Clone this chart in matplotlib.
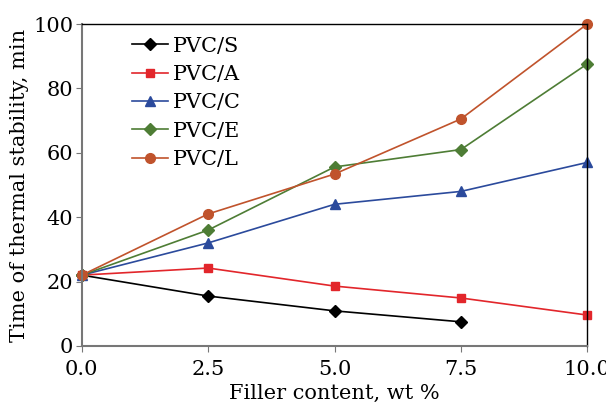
import matplotlib.pyplot as plt

plt.rcParams['font.family'] = ['DejaVu Serif']

filler = [0.0, 2.5, 5.0, 7.5, 10.0]
pvc_s = [22, 15.5, 10.9, 7.5]
pvc_a = [22, 24.2, 18.6, 14.9, 9.6]
pvc_c = [22, 32, 44, 48, 57]
pvc_e = [22, 36, 55.6, 61, 87.6]
pvc_l = [22, 41, 53.4, 70.5, 100]

fig = plt.figure(figsize=(6.06, 4.07), dpi=100)
ax = fig.add_axes([0.135, 0.15, 0.834, 0.791])

ax.plot(filler[:4], pvc_s, marker='D', ms=6, color='black', lw=1.2, label='PVC/S', clip_on=False)
ax.plot(filler, pvc_a, marker='s', ms=6, color='#e2262b', lw=1.2, label='PVC/A', clip_on=False)
ax.plot(filler, pvc_c, marker='^', ms=7, color='#2b4a9c', lw=1.2, label='PVC/C', clip_on=False)
ax.plot(filler, pvc_e, marker='D', ms=6, color='#4e7d35', lw=1.2, label='PVC/E', clip_on=False)
ax.plot(filler, pvc_l, marker='o', ms=7, color='#c0532c', lw=1.2, label='PVC/L', clip_on=False)

ax.set_xlim(0, 10)
ax.set_ylim(0, 100)
ax.set_xticks(filler)
ax.set_xticklabels(['0.0', '2.5', '5.0', '7.5', '10.0'])
ax.set_yticks([0, 20, 40, 60, 80, 100])
ax.tick_params(labelsize=15, direction='out', length=4, color='#777777')
ax.tick_params(axis='x', pad=6)
ax.tick_params(axis='y', pad=2)

for s in ['left', 'bottom']:
    ax.spines[s].set_color('#777777')
    ax.spines[s].set_linewidth(1.5)
for s in ['top', 'right']:
    ax.spines[s].set_color('black')
    ax.spines[s].set_linewidth(1.0)

ax.set_xlabel('Filler content, wt %', fontsize=15, labelpad=4)
ax.set_ylabel('Time of thermal stability, min', fontsize=15, labelpad=3)

ax.legend(loc='upper left', bbox_to_anchor=(0.075, 1.0), frameon=False, fontsize=15,
          handlelength=1.7, handletextpad=0.25, labelspacing=0.45, borderaxespad=0.2)

fig.savefig('out.png', dpi=100)
